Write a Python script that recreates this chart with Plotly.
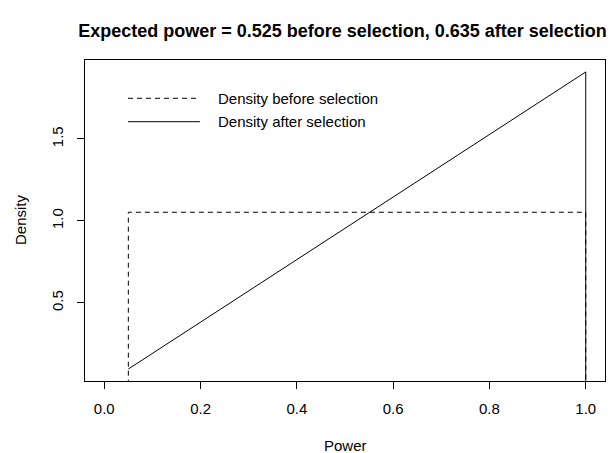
import plotly.graph_objects as go

# Data
power_before = [0.05, 0.05, 1.0, 1.0]
density_before = [0.0, 1.0526, 1.0526, 0.0]
power_after = [0.05, 1.0, 1.0]
density_after = [0.0956, 1.909, 0.0]
legend_labels = ["Density before selection", "Density after selection"]
x_ticks = [0.0, 0.2, 0.4, 0.6, 0.8, 1.0]
x_ticklabels = ["0.0", "0.2", "0.4", "0.6", "0.8", "1.0"]
y_ticks = [0.5, 1.0, 1.5]
y_ticklabels = ["0.5", "1.0", "1.5"]
title = "Expected power = 0.525 before selection, 0.635 after selection"

FONT = "Liberation Sans, Arial, Helvetica, sans-serif"
FS = 15
DASH = "5px,4px"
W, H = 616, 453
L, R, T, B = 85, 11, 60, 72

fig = go.Figure()
fig.add_trace(go.Scatter(x=power_before, y=density_before, mode="lines",
                         line=dict(color="black", width=1, dash=DASH),
                         showlegend=False, hoverinfo="skip"))
fig.add_trace(go.Scatter(x=power_after, y=density_after, mode="lines",
                         line=dict(color="black", width=1),
                         showlegend=False, hoverinfo="skip"))

# manual legend (R style, no box)
leg_y = [0.8807, 0.8078]
dashes = [DASH, "solid"]
for lbl, yy, ds in zip(legend_labels, leg_y, dashes):
    fig.add_shape(type="line", xref="paper", yref="paper",
                  x0=0.0827, x1=0.221, y0=yy, y1=yy,
                  line=dict(color="black", width=1, dash=ds))
    fig.add_annotation(xref="paper", yref="paper", x=0.252, y=yy, text=lbl,
                       showarrow=False, xanchor="left", yanchor="middle",
                       font=dict(family=FONT, size=FS, color="black"))

# axis titles
fig.add_annotation(xref="paper", yref="paper", x=0.5, y=-(445 - 381) / (H - T - B),
                   text="Power", showarrow=False, xanchor="center", yanchor="middle",
                   font=dict(family=FONT, size=FS, color="black"))
fig.add_annotation(xref="paper", yref="paper", x=-(85 - 20) / (W - L - R), y=(381 - 220) / (H - T - B),
                   text="Density", showarrow=False, xanchor="center", yanchor="middle",
                   textangle=-90,
                   font=dict(family=FONT, size=FS, color="black"))

fig.update_layout(
    width=W, height=H,
    margin=dict(l=L, r=R, t=T, b=B),
    paper_bgcolor="white", plot_bgcolor="white",
    title=dict(text="<b>" + title + "</b>", x=342.5 / W, xanchor="center",
               y=1 - 31 / H, yanchor="middle", yref="container",
               font=dict(family=FONT, size=18, color="black")),
    xaxis=dict(range=[-0.04, 1.04], tickvals=x_ticks, ticktext=x_ticklabels,
               showgrid=False, zeroline=False, showline=True, linecolor="black",
               linewidth=1, mirror=True, ticks="outside", ticklen=7, tickcolor="black",
               tickwidth=1, ticklabelstandoff=7,
               tickfont=dict(family=FONT, size=FS, color="black")),
    yaxis=dict(range=[0.0226, 1.982], tickvals=y_ticks, ticktext=y_ticklabels,
               showgrid=False, zeroline=False, showline=True, linecolor="black",
               linewidth=1, mirror=True, ticks="outside", ticklen=7, tickcolor="black",
               tickwidth=1, tickangle=-90, ticklabelstandoff=8,
               tickfont=dict(family=FONT, size=FS, color="black")),
    font=dict(family=FONT, size=FS, color="black"),
)

fig.write_html("out.html", config={"displayModeBar": False},
               post_script="document.body.style.margin='0';document.body.style.overflow='hidden';")
